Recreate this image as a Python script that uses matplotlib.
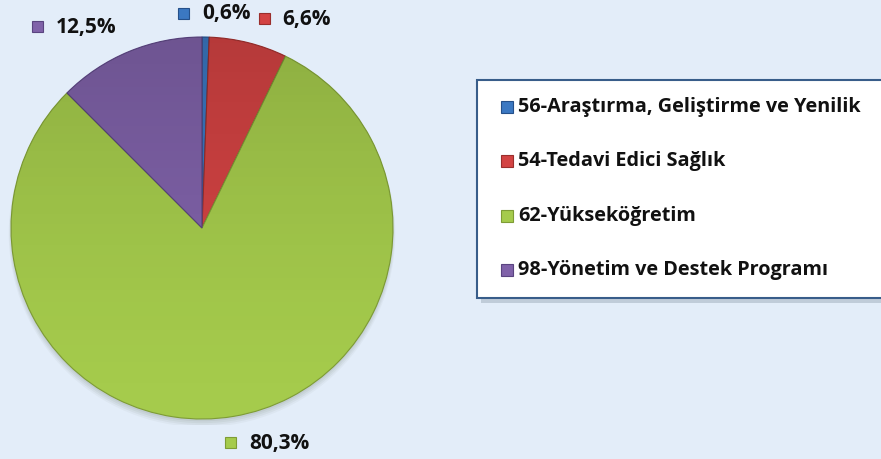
import numpy as np
import matplotlib.pyplot as plt
from matplotlib.patches import Rectangle, Circle

plt.rcParams['font.family'] = ['Open Sans', 'DejaVu Sans']

# data
labels = ['56-Araştırma, Geliştirme ve Yenilik', '54-Tedavi Edici Sağlık',
          '62-Yükseköğretim', '98-Yönetim ve Destek Programı']
values = [0.6, 6.6, 80.3, 12.5]
pct_text = ['0,6%', '6,6%', '80,3%', '12,5%']
colors = ['#3B78C2', '#D34343', '#A5CB4C', '#8062A9']
edges = ['#25508A', '#9A2E2C', '#7E9C35', '#5A4480']

W, H = 881, 459
bg = '#E3EDF9'
fig = plt.figure(figsize=(W / 100, H / 100), dpi=100, facecolor=bg)

# pie: center (202, 228) px, radius 191 px
cx, cy, r = 202, 228, 191
lim = 1.03
R = r * lim
ax = fig.add_axes([(cx - R) / W, (H - cy - R) / H, 2 * R / W, 2 * R / H])
ax.set_aspect('equal')
ax.axis('off')

# soft shadow under the pie
for k, a in enumerate([0.06, 0.06, 0.05, 0.04]):
    ax.add_patch(Circle((0.0, -0.012 - 0.006 * k), 1.0 + 0.004 * k,
                        color='#3A4A30', alpha=a, lw=0, zorder=0))

wedges, _ = ax.pie(values, colors=colors, startangle=90, counterclock=False,
                   radius=1.0, wedgeprops=dict(linewidth=0.8))
for w, ec in zip(wedges, edges):
    w.set_edgecolor(ec)
    w.set_zorder(2)

# vertical shading over the pie
grad = np.linspace(0, 1, 256).reshape(-1, 1)
shade = np.zeros((256, 1, 4))
shade[..., 3] = 0.14 * grad[::-1] ** 1.5
im = ax.imshow(shade, extent=[-1, 1, -1, 1], origin='upper', zorder=3,
               aspect='auto')
im.set_clip_path(Circle((0, 0), 1.0, transform=ax.transData))
ax.set_xlim(-lim, lim)
ax.set_ylim(-lim, lim)


def px(x, y):
    return x / W, 1 - y / H


def marker(x, y, c, ec, s=11):
    fig.patches.append(Rectangle(px(x, y + s), s / W, s / H, facecolor=c,
                                 edgecolor=ec, lw=0.8,
                                 transform=fig.transFigure, figure=fig))


# percentage labels: marker x, text x, center y
lab_pos = [(178, 202, 14), (259, 282, 19), (225, 249, 443), (32, 56, 27)]
for (mx, tx, yy), t, c, ec in zip(lab_pos, pct_text, colors, edges):
    marker(mx, yy - 6, c, ec)
    fig.text(*px(tx, yy), t, fontsize=15, fontweight='bold',
             va='center', ha='left', color='#111111')

# legend box
x0, y0, x1, y1 = 477, 80, 900, 298
fig.patches.append(Rectangle(px(x0 + 4, y1 + 5), (x1 - x0) / W, (y1 - y0) / H,
                             facecolor='#8090A0', alpha=0.35, lw=0,
                             transform=fig.transFigure, figure=fig))
fig.patches.append(Rectangle(px(x0, y1), (x1 - x0) / W, (y1 - y0) / H,
                             facecolor='white', edgecolor='#385D8A', lw=1.5,
                             transform=fig.transFigure, figure=fig))
rows = [107, 161, 216, 270]
for yy, t, c, ec in zip(rows, labels, colors, edges):
    marker(501, yy - 6, c, ec, s=12)
    fig.text(*px(518, yy), t, fontsize=14.3, fontweight='bold',
             va='center', ha='left', color='#111111')

fig.savefig('out.png', dpi=100, facecolor=bg)
